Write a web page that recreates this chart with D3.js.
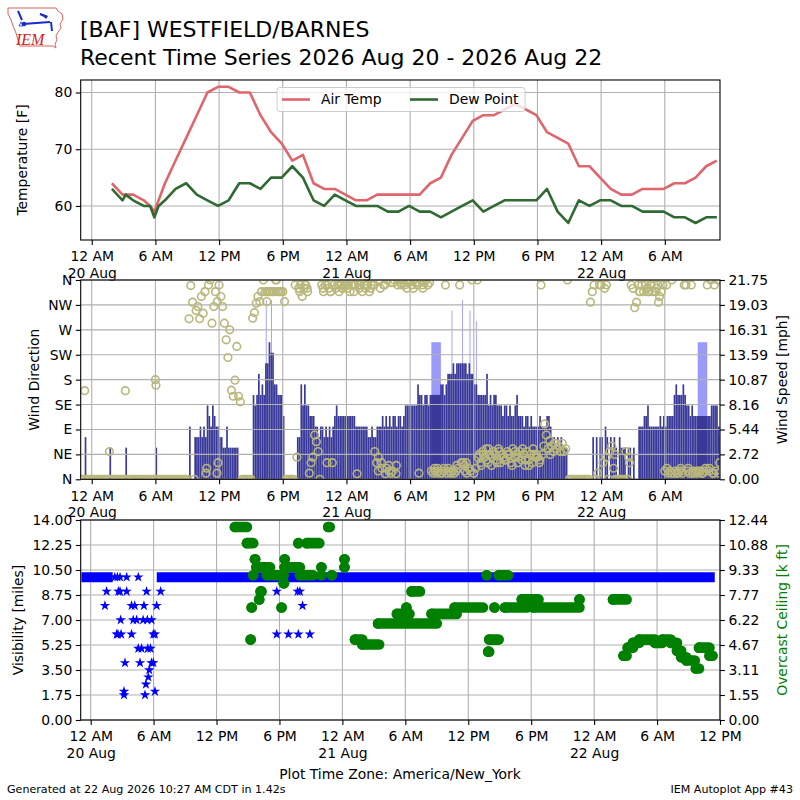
<!DOCTYPE html>
<html>
<head>
<meta charset="utf-8">
<script src="https://cdn.jsdelivr.net/npm/d3@7"></script>
<style>
  body { margin: 0; background: #fff; }
</style>
</head>
<body>
<svg id="chart" width="800" height="800"></svg>
<script>
// hours are counted from 20 Aug 2026 00:00 (America/New_York)
const obsHours = [1.9, 2.9, 3.2, 3.9, 4.9, 5.5, 5.9, 6.3, 6.9, 7.9, 8.9, 9.9, 10.9, 11.9, 12.9, 13.9,
  14.9, 15.9, 16.9, 17.9, 18.9, 19.9, 20.9, 21.9, 22.9, 23.9, 24.9, 25.9, 26.9, 27.9, 28.9, 29.9,
  30.9, 31.9, 32.9, 33.9, 34.9, 35.9, 36.9, 37.9, 38.9, 39.9, 40.9, 41.9, 42.9, 43.9, 44.9, 45.9,
  46.9, 47.9, 48.9, 49.9, 50.9, 51.9, 52.9, 53.9, 54.9, 55.9, 56.9, 57.9, 58.9];
const airTemp = [64, 62, 62, 62, 61, 60, 59, 61, 64, 68, 72, 76, 80, 81, 81, 80,
  80, 76, 73, 71, 68, 69, 64, 63, 63, 62, 61, 61, 62, 62, 62, 62,
  62, 64, 65, 69, 72, 75, 76, 76, 77, 78, 77, 76, 73, 72, 71, 67,
  67, 65, 63, 62, 62, 63, 63, 63, 64, 64, 65, 67, 68];
const dewPoint = [63, 61, 62, 61, 60, 60, 58, 60, 61, 63, 64, 62, 61, 60, 61, 64,
  64, 63, 65, 65, 67, 65, 61, 60, 62, 61, 60, 60, 60, 59, 59, 60,
  59, 59, 58, 59, 60, 61, 59, 60, 61, 61, 61, 61, 63, 59, 57, 61,
  60, 61, 61, 60, 60, 59, 59, 59, 58, 58, 57, 58, 58];

// wind: one value every 10 minutes, starting 19 Aug 11 PM (hour -1)
const windStartHour = -1;
const windSpeedKt = [
  0,0,4,0,0,0, 0,0,0,0,0,0,   0,0,0,0,3,0, 0,0,0,0,0,0,
  0,3,0,0,0,0, 0,0,0,0,0,0,   0,0,0,0,0,0, 3,0,0,0,0,0,
  0,0,0,0,0,0, 0,0,0,0,0,0,   0,5,0,0,4,4, 4,5,4,5,4,7,
  6,5,7,6,5,5, 4,4,3,3,5,3,   3,3,3,3,3,0, 0,0,0,0,0,0,
  0,8,7,8,10,8, 9,8,11,11,13,12,  12,9,9,8,8,8, 6,0,0,0,0,0,
  0,0,4,4,9,7, 9,7,7,6,6,6,   5,5,4,5,5,4, 5,4,5,4,5,6,
  7,6,6,6,6,6, 6,6,6,6,6,5,   5,5,5,5,5,5, 4,4,5,4,4,5,
  5,5,6,5,6,5, 6,5,6,6,5,6,   6,5,6,7,7,7, 7,7,7,7,9,8,
  8,7,8,8,7,8, 8,8,8,8,8,9,   9,8,9,10,10,10, 11,10,11,11,11,11,
  11,11,10,11,10,10, 9,9,8,8,8,8,  8,10,7,8,7,8, 8,7,7,7,6,7,
  7,6,7,6,6,7, 8,6,6,6,5,6,   6,5,6,5,5,5, 5,6,5,5,5,6,
  6,5,4,4,3,4, 3,4,3,3,3,0,   0,0,0,0,0,0, 0,0,0,0,0,0,
  0,4,0,4,0,4, 4,0,5,4,0,4,   3,4,3,0,4,3, 3,3,0,3,3,0,
  3,0,0,5,5,5, 6,6,7,5,5,5,   5,5,5,6,5,6, 5,6,6,6,6,8,
  9,8,8,8,9,8, 7,7,6,7,6,6,   6,6,6,6,6,6, 6,6,7,7,7,7,
  5,4];
const windDirDeg = [
  0,0,160,0,0,0, 0,0,0,0,0,0,   0,0,0,0,50,0, 0,0,0,0,0,0,
  0,160,0,0,0,0, 0,0,0,0,0,0,   0,0,0,0,0,0, 180,0,0,0,0,0,
  0,0,0,0,0,0, 0,0,0,0,0,0,   0,290,350,320,0,305, 312,290,330,300,339,20,
  351,360,282,312,339,321, 351,330,312,282,252,220,  270,161,150,179,240,150, 140,0,0,0,0,0,
  0,291,301,318,330,321, 339,360,339,339,339,339,  339,339,360,339,339,339, 339,321,0,0,0,0,
  0,351,40,345,351,330, 345,351,339,11,30,40,  80,68,50,0,351,339, 351,30,345,339,30,351,
  345,351,351,351,345,351, 351,351,339,351,351,351,  10,351,351,339,351,351, 351,339,351,351,50,30,
  15,360,20,351,10,360, 25,355,15,360,10,351,  360,355,360,351,360,355, 360,351,360,355,351,11,
  360,351,355,360,351,355, 15,11,15,11,15,11,  11,15,351,11,15,11, 15,11,15,20,351,30,
  30,15,11,20,15,360, 11,20,360,45,30,50,  40,55,30,45,25,50, 45,35,55,30,45,40,
  35,50,45,30,55,40, 45,30,50,35,45,25,  50,35,45,30,45,40, 40,30,351,45,100,80,
  55,70,60,50,65,55, 60,50,65,50,55,360,  0,0,0,0,0,0, 0,0,0,0,0,0,
  320,339,351,0,11,351, 351,30,345,351,0,50,  60,20,0,0,0,0, 0,0,50,0,30,351,
  345,310,320,351,339,351, 339,351,345,339,351,339,  351,339,351,330,339,351, 15,351,11,15,360,11,
  15,11,15,20,11,351, 351,15,11,351,15,11,  15,11,15,11,15,20, 351,15,360,11,351,15,
  360,30];
// extra direction reports between the 10 minute samples [hour, degrees]
const windDirExtra = [[6.05,170],[10.77,11],[11.8,11],[11.9,30],[16.5,321],[17.4,360],[19.6,339],
  [20.1,351],[20.3,345],[21.8,345],[22.2,351],[22.5,339],[23.3,339],[23.6,345],[24.1,345],[24.7,339],
  [25.2,345],[25.8,345],[26.3,345],[26.6,351],[27.2,345],[27.6,351],[28.2,11],[28.4,355],[29.2,351],
  [29.7,345],[30.3,345],[31.2,345],[27.0,40],[27.3,30],[27.8,20],[28.0,15],[28.7,25],
  [32.3,20],[32.6,20],[33.2,20],[33.6,20],[34.4,25],[35.1,25],[35.3,30],[36.4,40],[36.7,25],[36.9,45],
  [37.2,35],[37.4,55],[37.7,40],[38.2,30],[38.4,50],[38.9,35],[39.2,45],[39.6,25],[39.9,50],[40.2,40],
  [40.6,55],[40.9,35],[41.2,25],[41.6,55],[41.9,45],[42.2,35],[42.6,60],[43.2,45],[43.6,65],
  [48.5,40],[49.3,45],[50.6,40],[51.6,339],[52.4,339],[52.7,351],[53.2,345],[53.4,320],
  [54.2,20],[54.6,11],[55.2,11],[55.6,15],[56.2,20],[56.6,11],[57.2,15],[57.6,11],[58.2,20],[58.6,11],[59.1,11]];
// one minute gust spikes
const gustHours = [16.4, 16.9, 33.9, 34.9, 35.6, 36.2];
const gustKt = [17, 17, 16, 17, 16, 15];
// hourly report bars [start hour, end hour]
const reportSpan = [[32.0, 32.9], [57.1, 58.0]];
const reportSpeedKt = [8, 6];
const reportGustKt = [13, 13];

// visibility [miles]
const visRuns = [[-0.88, 2.1, 10], [6.3, 59.5, 10]];
const visPoints = [[1.36,8],[1.52,9],[2.48,6],[2.64,9],[2.8,9],[2.86,7],[2.6,6],[2.9,6],[3.18,2],[3.18,1.75],
  [3.27,4],[3.43,9],[3.9,6],[3.9,8],[4.06,7],[4.2,8],[4.38,7],[4.54,5],[4.7,4],[4.85,5],[5.0,7],[5.08,8],
  [5.18,1.75],[5.27,2.5],[5.33,9],[5.4,7],[5.45,5],[5.5,3],[5.59,3.5],[5.7,5],[5.8,4],[5.81,7],[5.97,6],
  [5.97,4],[6.13,6],[6.13,2],[6.29,8],[6.67,9],
  [17.74,9],[17.74,6],[18.85,6],[19.73,9],[19.8,6],[19.95,9],[20.2,8],[20.9,6],
  [2.3,10],[2.55,10],[2.8,10],[3.43,10],[4.54,10]];
// overcast ceiling [k ft] runs: [start hour, end hour, value]
const ceilRuns = [[13.75,14.9,12.0],[14.9,15.5,11.0],[15.25,15.25,5.0],[15.35,15.35,7.0],[15.5,15.5,9.0],
  [15.66,15.7,10.0],[15.8,17.1,9.5],[16.07,16.07,7.5],[16.2,16.3,8.0],[16.8,18.4,9.0],[18.2,18.2,7.0],
  [18.4,18.45,8.5],[18.5,18.5,10.0],[18.5,19.95,9.5],[19.8,19.8,11.0],[19.95,21.2,9.0],[20.6,21.8,11.0],
  [22.0,22.0,9.5],[22.0,22.0,9.0],[22.65,22.8,12.0],[23.0,23.0,9.0],[24.2,24.2,10.0],[24.2,24.2,9.5],
  [25.2,25.9,5.0],[25.9,27.5,4.7],[27.4,33.0,6.0],[29.2,30.4,6.6],[30.1,30.1,7.0],[30.6,31.4,8.0],
  [32.5,34.9,6.6],[34.7,37.4,7.0],[37.75,37.75,9.0],[37.9,38.0,4.25],[38.0,38.9,5.0],[38.5,38.5,7.0],
  [38.9,39.8,9.0],[39.5,41.6,7.0],[41.1,42.7,7.5],[42.2,46.6,7.0],[46.6,46.6,7.5],
  [49.8,51.1,7.5],[50.8,51.1,4.0],[51.2,51.7,4.5],[51.7,52.3,4.8],[52.3,53.8,5.0],[53.8,54.5,4.8],
  [54.5,55.3,5.0],[55.3,55.9,4.8],[55.9,56.3,4.3],[56.3,56.8,3.9],[56.8,57.6,3.7],[57.7,58.0,3.2],
  [58.0,59.0,4.5],[59.0,59.3,4.0]];

const tempTicks = [60, 70, 80];
const dirLabels = ["N", "NE", "E", "SE", "S", "SW", "W", "NW", "N"];
const speedMax = 21.75;
const speedTickLabels = ["0.00", "2.72", "5.44", "8.16", "10.87", "13.59", "16.31", "19.03", "21.75"];
const visMax = 14;
const ceilMax = 12.44;
const ceilTickLabels = ["0.00", "1.55", "3.11", "4.67", "6.22", "7.77", "9.33", "10.88", "12.44"];

// ---------------------------------------------------------------
const FONT = "DejaVu Sans, sans-serif";
const FS = 13.9;
const KT2MPH = 1.15078;
const svg = d3.select("#chart").attr("font-family", FONT);
const base = Date.UTC(2026, 7, 20);
const at = h => new Date(base + h * 3600e3);

const L = 80.7, R = 720;
const P = { temp: [80, 240], wind: [280, 479.3], vis: [520, 720] };

const x = d3.scaleUtc().domain([at(-1.04), at(59.2)]).range([L, R]);
const xVis = d3.scaleUtc().domain([at(-0.95), at(60)]).range([L, R]);
const yTemp = d3.scaleLinear().domain([54, 82.2]).range([P.temp[1], P.temp[0]]);
const yDir = d3.scaleLinear().domain([0, 360]).range([P.wind[1], P.wind[0]]);
const ySpd = d3.scaleLinear().domain([0, speedMax]).range([P.wind[1], P.wind[0]]);
const yVis = d3.scaleLinear().domain([0, visMax]).range([P.vis[1], P.vis[0]]);
const yCeil = d3.scaleLinear().domain([0, ceilMax]).range([P.vis[1], P.vis[0]]);

const defs = svg.append("defs");
Object.entries(P).forEach(([k, p]) => {
  defs.append("clipPath").attr("id", "clip-" + k)
    .append("rect").attr("x", L).attr("y", p[0]).attr("width", R - L).attr("height", p[1] - p[0]);
});

function grid(xs, ys, p, yValues) {
  const g = svg.append("g").attr("stroke", "#b0b0b0").attr("stroke-width", 1.1);
  xs.ticks(d3.utcHour.every(6)).forEach(t => {
    g.append("line").attr("x1", xs(t)).attr("x2", xs(t)).attr("y1", p[0]).attr("y2", p[1]);
  });
  yValues.forEach(v => {
    g.append("line").attr("x1", L).attr("x2", R).attr("y1", ys(v)).attr("y2", ys(v));
  });
}

function timeAxis(xs, y) {
  const g = svg.append("g").attr("transform", `translate(0,${y})`)
    .call(d3.axisBottom(xs).ticks(d3.utcHour.every(6)).tickSize(4.9).tickSizeOuter(0).tickPadding(6.5)
      .tickFormat(d3.utcFormat("%-I %p")));
  g.attr("font-size", FS).attr("font-family", FONT);
  g.select(".domain").remove();
  g.selectAll(".tick line").attr("stroke", "#000").attr("stroke-width", 1.1);
  g.selectAll(".tick text").attr("fill", "#000").each(function (d) {
    if (d.getUTCHours() === 0) {
      d3.select(this).append("tspan").attr("x", 0).attr("dy", "1.19em").text(d3.utcFormat("%d %b")(d));
    }
  });
}

function yAxis(ys, side, values, labels) {
  const ax = side === "left" ? d3.axisLeft(ys) : d3.axisRight(ys);
  const g = svg.append("g").attr("transform", `translate(${side === "left" ? L : R},0)`)
    .call(ax.tickValues(values).tickSize(4.9).tickSizeOuter(0).tickPadding(3.5)
      .tickFormat((d, i) => labels[i]));
  g.attr("font-size", FS).attr("font-family", FONT);
  g.select(".domain").remove();
  g.selectAll(".tick line").attr("stroke", "#000").attr("stroke-width", 1.1);
  g.selectAll(".tick text").attr("fill", "#000");
}

function frame(p) {
  svg.append("rect").attr("x", L).attr("y", p[0]).attr("width", R - L).attr("height", p[1] - p[0])
    .attr("fill", "none").attr("stroke", "#000").attr("stroke-width", 1.1);
}

function axisLabel(text, cx, cy, color) {
  svg.append("text").attr("transform", `translate(${cx},${cy}) rotate(-90)`)
    .attr("text-anchor", "middle").attr("dy", "0.35em").attr("font-size", FS)
    .attr("fill", color || "#000").text(text);
}

// ---------------- temperature panel ----------------
grid(x, yTemp, P.temp, tempTicks);
const tempG = svg.append("g").attr("clip-path", "url(#clip-temp)");
const line = vals => d3.line().x((h, i) => x(at(h))).y((h, i) => yTemp(vals[i]));
tempG.append("path").datum(obsHours).attr("d", line(airTemp))
  .attr("fill", "none").attr("stroke", "#e0656d").attr("stroke-width", 2.6).attr("stroke-linejoin", "round");
tempG.append("path").datum(obsHours).attr("d", line(dewPoint))
  .attr("fill", "none").attr("stroke", "#2e6a31").attr("stroke-width", 2.6).attr("stroke-linejoin", "round");
frame(P.temp);
timeAxis(x, P.temp[1]);
yAxis(yTemp, "left", tempTicks, tempTicks.map(String));
axisLabel("Temperature [F]", 22, (P.temp[0] + P.temp[1]) / 2);

const leg = svg.append("g");
leg.append("rect").attr("x", 277).attr("y", 87.5).attr("width", 248).attr("height", 24).attr("rx", 3)
  .attr("fill", "#fff").attr("fill-opacity", 0.8).attr("stroke", "#cccccc").attr("stroke-width", 1);
[["Air Temp", "#e0656d", 282], ["Dew Point", "#2e6a31", 410]].forEach(([name, c, lx]) => {
  leg.append("line").attr("x1", lx).attr("x2", lx + 28).attr("y1", 99.5).attr("y2", 99.5)
    .attr("stroke", c).attr("stroke-width", 2.6);
  leg.append("text").attr("x", lx + 39).attr("y", 99.5).attr("dy", "0.35em").attr("font-size", FS).text(name);
});

// ---------------- wind panel ----------------
const windG = svg.append("g").attr("clip-path", "url(#clip-wind)");
const windHour = i => windStartHour + i / 6;
const barW = x(at(9.6 / 60)) - x(at(0));
const gustW = x(at(5 / 60)) - x(at(0));
windG.selectAll("rect.gust").data(gustHours).join("rect")
  .attr("x", h => x(at(h))).attr("width", gustW)
  .attr("y", (h, i) => ySpd(gustKt[i] * KT2MPH)).attr("height", (h, i) => ySpd(0) - ySpd(gustKt[i] * KT2MPH))
  .attr("fill", "#9a9afa");
windG.selectAll("rect.rgust").data(reportSpan).join("rect")
  .attr("x", s => x(at(s[0]))).attr("width", s => x(at(s[1])) - x(at(s[0])))
  .attr("y", (s, i) => ySpd(reportGustKt[i] * KT2MPH)).attr("height", (s, i) => ySpd(0) - ySpd(reportGustKt[i] * KT2MPH))
  .attr("fill", "#9a9afa");
windG.selectAll("rect.spd").data(windSpeedKt).join("rect")
  .attr("x", (v, i) => x(at(windHour(i)))).attr("width", barW)
  .attr("y", v => ySpd(v * KT2MPH)).attr("height", v => ySpd(0) - ySpd(v * KT2MPH))
  .attr("fill", "#393999");
windG.selectAll("rect.rspd").data(reportSpan).join("rect")
  .attr("x", s => x(at(s[0]))).attr("width", s => x(at(s[1])) - x(at(s[0])))
  .attr("y", (s, i) => ySpd(reportSpeedKt[i] * KT2MPH)).attr("height", (s, i) => ySpd(0) - ySpd(reportSpeedKt[i] * KT2MPH))
  .attr("fill", "#393999");
grid(x, yDir, P.wind, d3.range(0, 361, 45));
const dirPts = windDirDeg.map((d, i) => [windHour(i), d]).concat(windDirExtra);
svg.append("g").attr("clip-path", "url(#clip-wind)")
  .selectAll("circle").data(dirPts).join("circle")
  .attr("cx", d => x(at(d[0]))).attr("cy", d => yDir(d[1])).attr("r", 3.8)
  .attr("fill", "none").attr("stroke", "#b9b77b").attr("stroke-width", 1.6);
frame(P.wind);
timeAxis(x, P.wind[1]);
yAxis(yDir, "left", d3.range(0, 361, 45), dirLabels);
yAxis(ySpd, "right", d3.range(9).map(i => speedMax * i / 8), speedTickLabels);
axisLabel("Wind Direction", 34, (P.wind[0] + P.wind[1]) / 2);
axisLabel("Wind Speed [mph]", 782, (P.wind[0] + P.wind[1]) / 2);

// ---------------- visibility / ceiling panel ----------------
const visTicks = d3.range(9).map(i => visMax * i / 8);
grid(xVis, yVis, P.vis, visTicks);
const visG = svg.append("g").attr("clip-path", "url(#clip-vis)");
visG.selectAll("line.vis").data(visRuns).join("line")
  .attr("x1", r => xVis(at(r[0]))).attr("x2", r => xVis(at(r[1])))
  .attr("y1", r => yVis(r[2])).attr("y2", r => yVis(r[2]))
  .attr("stroke", "#0000ff").attr("stroke-width", 10);
const star = d3.symbol(d3.symbolStar, 34);
visG.selectAll("path.vis").data(visPoints).join("path")
  .attr("transform", d => `translate(${xVis(at(d[0]))},${yVis(d[1])})`)
  .attr("d", star).attr("fill", "#0000ff");
visG.selectAll("line.ceil").data(ceilRuns).join("line")
  .attr("x1", r => xVis(at(r[0]))).attr("x2", r => xVis(at(r[1])))
  .attr("y1", r => yCeil(r[2])).attr("y2", r => yCeil(r[2]))
  .attr("stroke", "#008000").attr("stroke-width", 10.6).attr("stroke-linecap", "round");
visG.selectAll("circle.ceil").data(ceilRuns).join("circle")
  .attr("cx", r => xVis(at(r[0]))).attr("cy", r => yCeil(r[2])).attr("r", 5.3).attr("fill", "#008000");
frame(P.vis);
timeAxis(xVis, P.vis[1]);
yAxis(yVis, "left", visTicks, visTicks.map(d3.format(".2f")));
yAxis(yCeil, "right", d3.range(9).map(i => ceilMax * i / 8), ceilTickLabels);
axisLabel("Visibility [miles]", 18, (P.vis[0] + P.vis[1]) / 2);
axisLabel("Overcast Ceiling [k ft]", 782, (P.vis[0] + P.vis[1]) / 2, "#008000");

// ---------------- titles, footer, logo ----------------
svg.append("text").attr("x", 80).attr("y", 37).attr("font-size", 22).text("[BAF] WESTFIELD/BARNES");
svg.append("text").attr("x", 80).attr("y", 65).attr("font-size", 22)
  .text("Recent Time Series 2026 Aug 20 - 2026 Aug 22");
svg.append("text").attr("x", 400).attr("y", 779).attr("text-anchor", "middle").attr("font-size", FS)
  .text("Plot Time Zone: America/New_York");
svg.append("text").attr("x", 7).attr("y", 793).attr("font-size", 11.1)
  .text("Generated at 22 Aug 2026 10:27 AM CDT in 1.42s");
svg.append("text").attr("x", 793).attr("y", 793).attr("text-anchor", "end").attr("font-size", 11.1)
  .text("IEM Autoplot App #43");

const logo = svg.append("g");
logo.append("path")
  .attr("d", "M8,8 L56,8 L58,11 L62,14 L63,19 L60,24 L61,28 L58,32 L56,36 L57,40 L55,44 L56,48 L53,46 L20,46 L18,40 L16,33 L13,26 L11,20 L8,14 Z")
  .attr("fill", "none").attr("stroke", "#e06060").attr("stroke-width", 1);
logo.append("path").attr("d", "M23,24 L50,22 M18,11 L22,20 M40,14 L47,17 M51,22 L52,31")
  .attr("stroke", "#1a2ccc").attr("stroke-width", 2).attr("fill", "none");
logo.append("path").attr("d", "M40,13 L48,16 L46,19 Z").attr("fill", "#1a2ccc");
logo.append("circle").attr("cx", 24).attr("cy", 24).attr("r", 2.3).attr("fill", "#1a2ccc");
logo.append("path").attr("d", "M19,26 L21,22 L23,26 Z").attr("fill", "none").attr("stroke", "#1a2ccc").attr("stroke-width", 0.8);
logo.append("text").attr("x", 16).attr("y", 45).attr("font-family", "Liberation Serif, serif")
  .attr("font-style", "italic").attr("font-size", 16).attr("fill", "#d42020").text("IEM");
</script>
</body>
</html>
